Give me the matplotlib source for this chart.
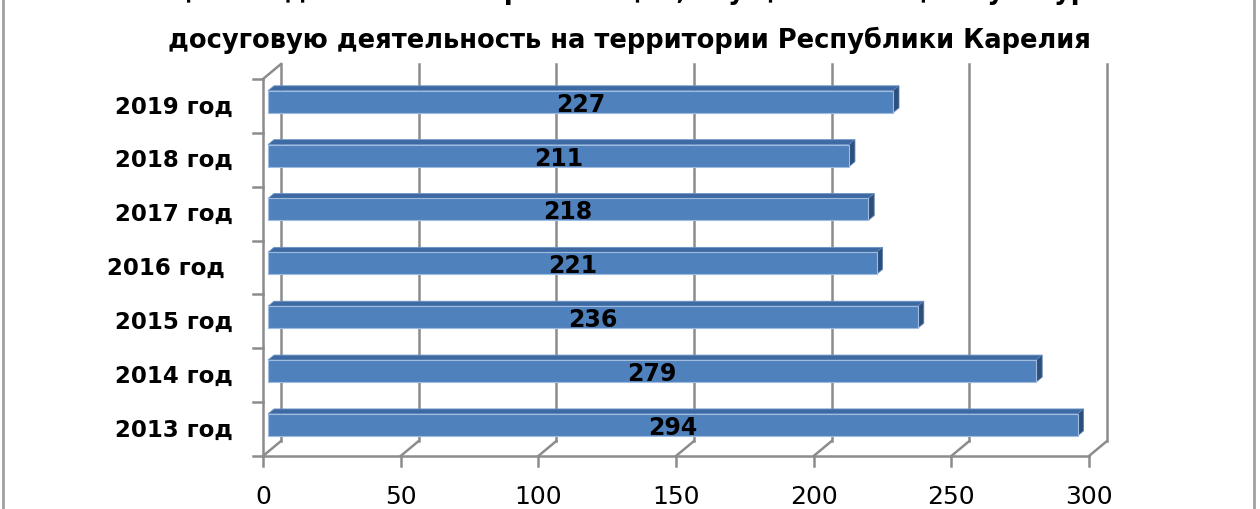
import matplotlib
matplotlib.use("Agg")
import matplotlib.pyplot as plt
from matplotlib.patches import Polygon
from matplotlib.lines import Line2D

# данные
years = ["2019 год", "2018 год", "2017 год", "2016 год ", "2015 год", "2014 год", "2013 год"]
values = [227, 211, 218, 221, 236, 279, 294]
x_ticks = [0, 50, 100, 150, 200, 250, 300]
title_1 = "Общие сведения о сети организаций, осуществляющих культурно-"
title_2 = "досуговую деятельность на территории Республики Карелия"

plt.rcParams['font.family'] = ['DejaVu Sans']

W, H = 1260, 510
fig = plt.figure(figsize=(W / 100, H / 100), dpi=100)
ax = fig.add_axes([0, 0, 1, 1])

# масштаб: пикселей на единицу значения и на категорию
px_val = (1089 - 263) / 300.0
px_cat = (457 - 80) / 7.0
x0 = -263 / px_val
ax.set_xlim(x0, x0 + W / px_val)
ax.set_ylim((H - 80) / px_cat, -80 / px_cat)
ax.axis('off')

# глубина 3D
DX = 18 / px_val
DY = -15 / px_cat
n = len(years)
grid_c = '#8c8c8c'
lw = 1.8

# стенки и сетка
ax.plot([0, 0], [0, n], color=grid_c, lw=lw, zorder=1)
ax.plot([0, DX], [0, DY], color=grid_c, lw=lw, zorder=1)
ax.plot([0, max(x_ticks)], [n, n], color=grid_c, lw=lw, zorder=1)
for v in x_ticks:
    ax.plot([v, v + DX], [n, n + DY], color=grid_c, lw=lw, zorder=1)
    ax.plot([v + DX, v + DX], [n + DY, DY], color=grid_c, lw=lw, zorder=1)
    ax.plot([v, v], [n, n + 10 / px_cat], color=grid_c, lw=lw, zorder=1)
    ax.text(v, n + 40 / px_cat, str(v), ha='center', va='center', fontsize=18, color='black')
for k in range(n + 1):
    ax.plot([0, -10 / px_val], [k, k], color=grid_c, lw=lw, zorder=1)

# столбцы
d1, d2 = 0.28, 0.61
hh = 0.204
front_c = '#4f81bd'
top_c = '#3d6aa3'
side_c = '#2c4f7c'
for i, (lab, v) in enumerate(zip(years, values)):
    c = i + 0.5 + d1 * DY
    xs = d1 * DX
    xe = v + d1 * DX
    yt = c - hh
    yb = c + hh
    ddx = (d2 - d1) * DX
    ddy = (d2 - d1) * DY
    ax.add_patch(Polygon([(xs, yt), (xe, yt), (xe + ddx, yt + ddy), (xs + ddx, yt + ddy)],
                         closed=True, facecolor=top_c, edgecolor='#6f95c6', lw=0.6, zorder=3))
    ax.add_patch(Polygon([(xe, yt), (xe, yb), (xe + ddx, yb + ddy), (xe + ddx, yt + ddy)],
                         closed=True, facecolor=side_c, edgecolor='#5a7fae', lw=0.6, zorder=3))
    ax.barh(c, v, left=xs, height=2 * hh, color=front_c, edgecolor='#9fbce0', lw=0.8, zorder=4)
    ax.text(xs + v / 2, c + 2 / px_cat, str(v), ha='center', va='center',
            fontsize=17, fontweight='bold', color='black', zorder=5)
    ax.text(-30 / px_val, i + 0.5, lab, ha='right', va='center',
            fontsize=16.5, fontweight='bold', color='black')

# заголовок
fig.text(629 / W, 1 + 9 / H, title_1, ha='center', va='center', fontsize=18.5, fontweight='bold')
fig.text(629 / W, 1 - 40 / H, title_2, ha='center', va='center', fontsize=18.5, fontweight='bold')

# рамка области диаграммы
for xp in (3, 1254):
    fig.add_artist(Line2D([xp / W, xp / W], [0, 1], transform=fig.transFigure,
                          color='#a0a0a0', lw=2))

fig.savefig('out.png', dpi=100)
